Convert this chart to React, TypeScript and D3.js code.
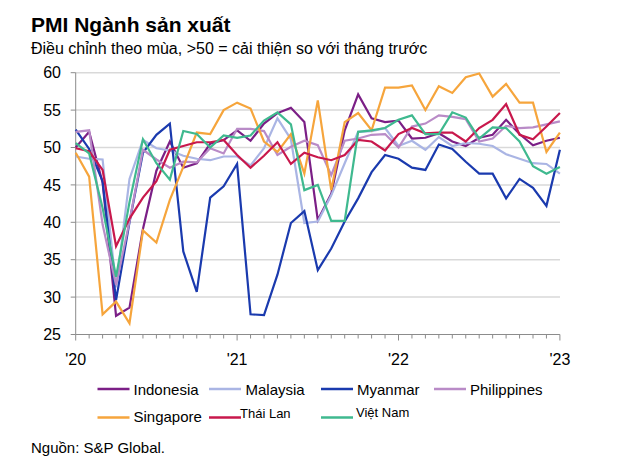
import React from "react";
import * as d3 from "d3";

const months: number[] = d3.range(37);
const yearTicks: number[] = [0, 12, 24, 36];
const yearLabels: string[] = ["'20", "'21", "'22", "'23"];
const yTicks: number[] = [25, 30, 35, 40, 45, 50, 55, 60];

const indonesia: number[] = [50.0, 52.1, 45.3, 27.5, 28.6, 39.1, 46.9, 50.8, 47.3, 47.9, 50.5, 51.0, 52.3, 50.9, 53.2, 54.6, 55.3, 53.4, 40.3, 43.8, 52.3, 57.1, 53.9, 53.4, 53.6, 51.2, 51.3, 51.9, 50.8, 50.2, 51.3, 51.7, 53.7, 51.8, 50.3, 50.9, 51.3];
const malaysia: number[] = [48.8, 48.5, 48.4, 31.3, 45.8, 51.0, 49.9, 49.6, 48.9, 48.5, 48.3, 48.8, 48.8, 47.6, 49.9, 53.9, 51.1, 39.9, 40.1, 43.6, 47.9, 52.1, 52.2, 52.6, 50.2, 50.9, 49.7, 51.4, 50.2, 50.6, 50.5, 50.2, 49.1, 48.5, 47.9, 47.8, 46.5];
const myanmar: number[] = [52.4, 49.8, 45.5, 29.6, 40.0, 49.3, 51.7, 53.2, 36.1, 30.7, 43.3, 44.8, 47.8, 27.7, 27.6, 33.0, 39.9, 41.5, 33.6, 36.5, 40.1, 43.2, 46.7, 49.0, 48.5, 47.3, 47.0, 50.4, 49.8, 48.1, 46.5, 46.5, 43.2, 45.8, 44.6, 42.2, 49.7];
const philippines: number[] = [52.1, 52.3, 39.7, 31.6, 40.1, 49.7, 48.4, 47.3, 48.1, 48.0, 49.9, 49.2, 52.5, 52.5, 52.2, 49.0, 50.1, 50.9, 50.3, 46.3, 50.9, 51.2, 51.7, 51.8, 50.0, 52.8, 53.2, 54.3, 54.1, 53.8, 50.8, 51.2, 52.9, 52.6, 52.7, 53.1, 53.5];
const singapore: number[] = [49.3, 46.1, 27.7, 29.4, 26.5, 38.9, 37.3, 43.0, 47.4, 52.0, 51.8, 55.0, 56.0, 55.2, 50.8, 49.4, 51.8, 46.5, 56.3, 44.3, 53.4, 54.6, 52.3, 58.0, 58.0, 58.3, 55.0, 58.2, 57.3, 59.4, 59.9, 56.8, 58.5, 56.0, 56.0, 49.4, 52.0];
const thailand: number[] = [49.9, 49.5, 47.0, 36.8, 40.5, 43.3, 45.5, 49.7, 50.2, 50.7, 50.7, 51.0, 49.0, 47.3, 48.9, 50.7, 47.8, 49.3, 48.7, 48.3, 49.0, 51.0, 50.8, 49.6, 51.8, 52.6, 51.9, 52.0, 52.0, 50.8, 52.6, 53.7, 55.8, 51.7, 51.1, 52.8, 54.6];
const vietnam: number[] = [50.6, 49.2, 41.9, 32.7, 42.7, 51.1, 47.9, 45.7, 52.2, 51.8, 50.0, 51.6, 51.3, 51.6, 53.6, 54.7, 53.1, 44.3, 45.0, 40.2, 40.2, 52.1, 52.3, 52.6, 53.7, 54.3, 51.8, 51.8, 54.7, 54.0, 51.2, 52.7, 52.6, 50.8, 47.5, 46.5, 47.4];

const seriesNames: string[] = ["Indonesia", "Malaysia", "Myanmar", "Philippines", "Singapore", "Thái Lan", "Việt Nam"];
const seriesValues: number[][] = [indonesia, malaysia, myanmar, philippines, singapore, thailand, vietnam];
const seriesColors: string[] = ["#7b1f86", "#aab5e4", "#1a3aae", "#b98bc7", "#f6a53c", "#c8184c", "#3fb98f"];

const FONT = "'Liberation Sans', Arial, sans-serif";

export default function App() {
  const W = 640;
  const H = 473;
  const x = d3.scaleLinear().domain([0, 36]).range([75.7, 559.9]);
  const y = d3.scaleLinear().domain([25, 60]).range([334.5, 72.7]);
  const line = d3
    .line<number>()
    .x((_, i) => x(i))
    .y((d) => y(d));

  // legend layout: [lineX, lineY, textX, textY, fontSize]
  const legendLayout: [number, number, number, number, number][] = [
    [97.5, 389, 133.5, 394.5, 15],
    [209, 389, 245.5, 394.5, 15],
    [321, 389, 357, 394.5, 15],
    [434, 389, 470, 394.5, 15],
    [97.5, 417.5, 133.5, 422, 15],
    [209, 417.5, 240, 418, 13],
    [321, 417.5, 356, 416.5, 13],
  ];

  return (
    <svg
      width={W}
      height={H}
      style={{ position: "absolute", left: 0, top: 0, background: "#fff" }}
      fontFamily={FONT}
    >
      <rect x={0} y={0} width={W} height={H} fill="#fff" />
      <text x={31} y={32} fontSize={21} fontWeight="bold" fill="#000">
        PMI Ngành sản xuất
      </text>
      <text x={31} y={54} fontSize={16} fill="#000">
        Điều chỉnh theo mùa, &gt;50 = cải thiện so với tháng trước
      </text>

      {/* gridlines */}
      {yTicks.filter((t) => t > 25).map((t) => (
        <line key={"g" + t} x1={x(0)} x2={560} y1={y(t)} y2={y(t)} stroke="#d9d9d9" strokeWidth={1.5} />
      ))}

      {/* y axis */}
      <line x1={x(0)} x2={x(0)} y1={y(60)} y2={y(25)} stroke="#8c8c8c" strokeWidth={1} />
      {yTicks.map((t) => (
        <g key={"yt" + t}>
          <line x1={x(0) - 5} x2={x(0)} y1={y(t)} y2={y(t)} stroke="#8c8c8c" strokeWidth={1} />
          <text x={61} y={y(t)} dy="0.36em" textAnchor="end" fontSize={16} fill="#000">
            {t}
          </text>
        </g>
      ))}

      {/* x axis */}
      <line x1={x(0)} x2={x(36)} y1={y(25)} y2={y(25)} stroke="#8c8c8c" strokeWidth={1} />
      {months.map((m) => (
        <line
          key={"xt" + m}
          x1={x(m)}
          x2={x(m)}
          y1={y(25)}
          y2={y(25) + (yearTicks.includes(m) ? 6 : 4)}
          stroke="#8c8c8c"
          strokeWidth={1}
        />
      ))}
      {yearTicks.map((m, i) => (
        <text key={"xl" + m} x={x(m)} y={365} textAnchor="middle" fontSize={16} fill="#000">
          {yearLabels[i]}
        </text>
      ))}

      {/* series */}
      {seriesValues.map((vals, i) => (
        <path
          key={"s" + i}
          d={line(vals) || ""}
          fill="none"
          stroke={seriesColors[i]}
          strokeWidth={2.2}
          strokeLinejoin="miter"
        />
      ))}

      {/* legend */}
      {seriesNames.map((name, i) => {
        const [lx, ly, tx, ty, fs] = legendLayout[i];
        return (
          <g key={"lg" + i}>
            <line x1={lx} x2={lx + 32} y1={ly} y2={ly} stroke={seriesColors[i]} strokeWidth={2.5} />
            <text x={tx} y={ty} fontSize={fs} fill="#000">
              {name}
            </text>
          </g>
        );
      })}

      <text x={31} y={453} fontSize={15} fill="#000">
        Nguồn: S&amp;P Global.
      </text>
    </svg>
  );
}
